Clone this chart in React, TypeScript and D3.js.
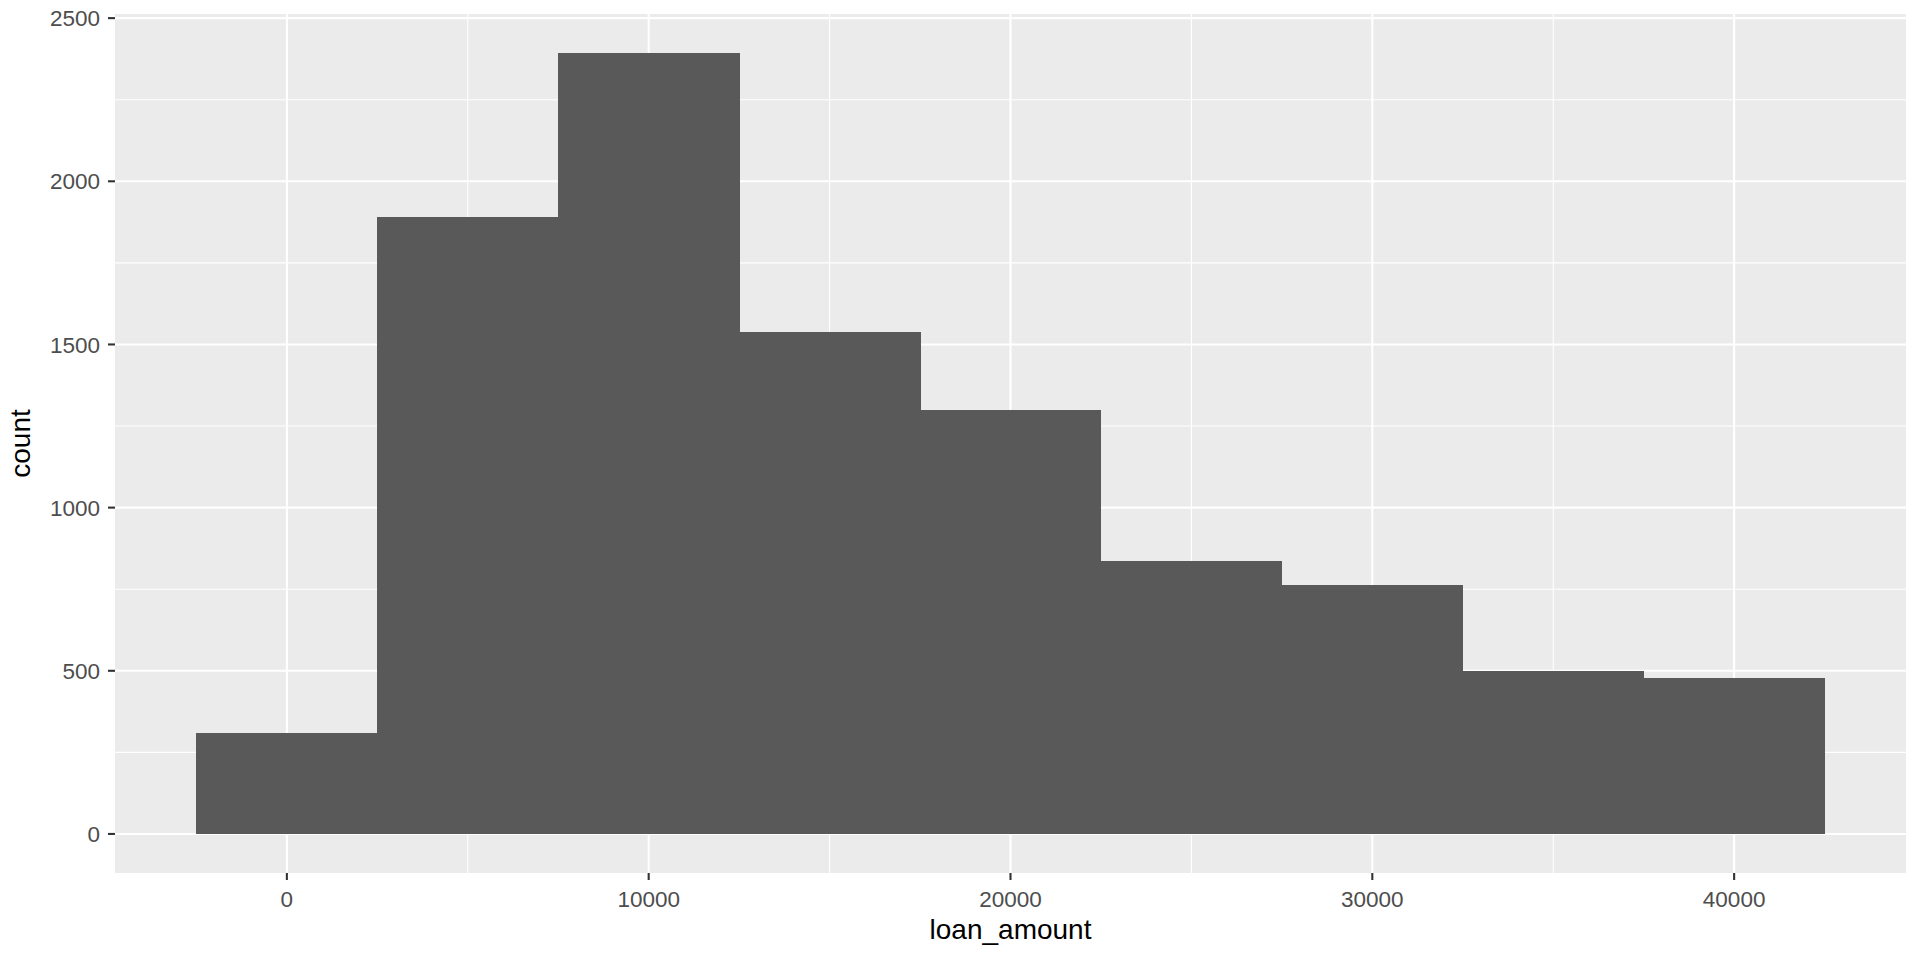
import React from "react";
import * as d3 from "d3";

// histogram of loan_amount, binwidth 5000
const binCenters = [0, 5000, 10000, 15000, 20000, 25000, 30000, 35000, 40000];
const counts = [310, 1890, 2393, 1538, 1299, 836, 763, 499, 477];
const xTicks = [0, 10000, 20000, 30000, 40000];
const xMinor = [5000, 15000, 25000, 35000];
const yTicks = [0, 500, 1000, 1500, 2000, 2500];
const yMinor = [250, 750, 1250, 1750, 2250];

const BIN = 5000;
const W = 1920;
const H = 960;
const panel = { left: 115, right: 1906, top: 14, bottom: 873 };
const FONT = "'Liberation Sans', Arial, sans-serif";

export default function App() {
  const xMin = binCenters[0] - BIN / 2;
  const xMax = binCenters[binCenters.length - 1] + BIN / 2;
  const xPad = (xMax - xMin) * 0.05;
  const yMax = d3.max(counts) as number;
  const yPad = yMax * 0.05;

  const x = d3
    .scaleLinear()
    .domain([xMin - xPad, xMax + xPad])
    .range([panel.left, panel.right]);

  const y = d3
    .scaleLinear()
    .domain([-yPad, yMax + yPad])
    .range([panel.bottom, panel.top]);

  return (
    <svg
      width={W}
      height={H}
      style={{ position: "absolute", left: 0, top: 0, background: "#fff" }}
      fontFamily={FONT}
    >
      <rect
        x={panel.left}
        y={panel.top}
        width={panel.right - panel.left}
        height={panel.bottom - panel.top}
        fill="#EBEBEB"
      />
      {/* minor grid */}
      {yMinor.map((v) => (
        <line key={"ym" + v} x1={panel.left} x2={panel.right} y1={y(v)} y2={y(v)} stroke="#fff" strokeWidth={1.1} />
      ))}
      {xMinor.map((v) => (
        <line key={"xm" + v} x1={x(v)} x2={x(v)} y1={panel.top} y2={panel.bottom} stroke="#fff" strokeWidth={1.1} />
      ))}
      {/* major grid */}
      {yTicks.map((v) => (
        <line key={"yg" + v} x1={panel.left} x2={panel.right} y1={y(v)} y2={y(v)} stroke="#fff" strokeWidth={2.1} />
      ))}
      {xTicks.map((v) => (
        <line key={"xg" + v} x1={x(v)} x2={x(v)} y1={panel.top} y2={panel.bottom} stroke="#fff" strokeWidth={2.1} />
      ))}

      {/* bars */}
      <g shapeRendering="crispEdges">
        {binCenters.map((c, i) => (
          <rect
            key={c}
            x={x(c - BIN / 2)}
            y={y(counts[i])}
            width={x(c + BIN / 2) - x(c - BIN / 2) + 0.5}
            height={y(0) - y(counts[i])}
            fill="#595959"
          />
        ))}
      </g>

      {/* y axis */}
      {yTicks.map((v) => (
        <g key={"yt" + v}>
          <line x1={panel.left - 7} x2={panel.left} y1={y(v)} y2={y(v)} stroke="#333333" strokeWidth={2.1} />
          <text x={panel.left - 15} y={y(v)} dy="0.36em" textAnchor="end" fontSize={22.5} fill="#4D4D4D">
            {v}
          </text>
        </g>
      ))}

      {/* x axis */}
      {xTicks.map((v) => (
        <g key={"xt" + v}>
          <line x1={x(v)} x2={x(v)} y1={panel.bottom} y2={panel.bottom + 7} stroke="#333333" strokeWidth={2.1} />
          <text x={x(v)} y={panel.bottom + 34} textAnchor="middle" fontSize={22.5} fill="#4D4D4D">
            {v}
          </text>
        </g>
      ))}

      <text x={(panel.left + panel.right) / 2} y={939} textAnchor="middle" fontSize={28} fill="#000">
        loan_amount
      </text>
      <text
        transform={`translate(30, ${(panel.top + panel.bottom) / 2}) rotate(-90)`}
        textAnchor="middle"
        fontSize={28}
        fill="#000"
      >
        count
      </text>
    </svg>
  );
}
